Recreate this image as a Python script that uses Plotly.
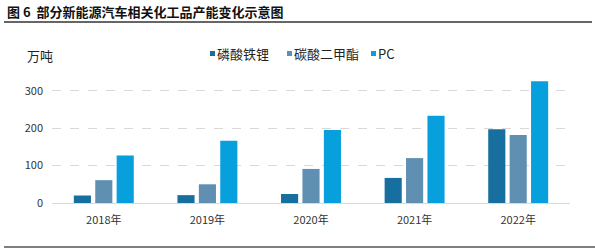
import plotly.graph_objects as go

years = ["2018年", "2019年", "2020年", "2021年", "2022年"]
lfp = [20, 21, 24, 67, 197]
dmc = [61, 50, 91, 120, 182]
pc = [127, 166, 195, 233, 325]
names = ["磷酸铁锂", "碳酸二甲酯", "PC"]
colors = ["#166f9f", "#5f8fb1", "#08a0dc"]

FONT = "Noto Sans CJK SC"
W, H = 595, 250
L, R, T, B = 52, 25, 75, 47
pw, ph = W - L - R, H - T - B

def px(x):
    return (x - L) / pw

def py(y):
    return (H - B - y) / ph

fig = go.Figure()
for n, v, c in zip(names, [lfp, dmc, pc], colors):
    fig.add_trace(go.Bar(x=years, y=v, name=n, marker=dict(color=c, line=dict(width=0))))

shapes = [
    dict(type="line", xref="paper", yref="paper", x0=px(4), x1=px(592), y0=py(22), y1=py(22),
         line=dict(color="#333333", width=1.5)),
    dict(type="line", xref="paper", yref="paper", x0=px(4), x1=px(595), y0=py(247), y1=py(247),
         line=dict(color="#555555", width=1.5)),
]
annotations = [
    dict(text="<b>图 6  部分新能源汽车相关化工品产能变化示意图</b>", xref="paper", yref="paper",
         x=px(5), y=py(11), xanchor="left", yanchor="middle", showarrow=False,
         font=dict(size=13, color="#111111", family=FONT)),
    dict(text="万吨", xref="paper", yref="paper", x=px(25), y=py(55),
         xanchor="left", yanchor="middle", showarrow=False,
         font=dict(size=13, color="#222222", family=FONT)),
]
# custom legend
leg_x = [210, 287, 371]
for n, c, x in zip(names, colors, leg_x):
    shapes.append(dict(type="rect", xref="paper", yref="paper", x0=px(x), x1=px(x + 5),
                       y0=py(56), y1=py(51), fillcolor=c, line=dict(width=0)))
    annotations.append(dict(text=n, xref="paper", yref="paper", x=px(x + 5), y=py(53.5),
                            xanchor="left", yanchor="middle", showarrow=False,
                            font=dict(size=13, color="#222222", family=FONT)))

fig.update_layout(
    width=W, height=H,
    margin=dict(l=L, r=R, t=T, b=B),
    plot_bgcolor="white", paper_bgcolor="white",
    barmode="group", bargap=0.38, bargroupgap=0.2,
    font=dict(family=FONT, size=11, color="#333333"),
    showlegend=False,
    xaxis=dict(showgrid=False, showline=True, linecolor="#d9d9d9", linewidth=1,
               ticks="", ticklabelstandoff=7, tickfont=dict(size=11, color="#333333")),
    yaxis=dict(range=[0, 342], tickvals=[0, 100, 200, 300], showgrid=True,
               gridcolor="#d9d9d9", griddash="dash", gridwidth=1, zeroline=False,
               showline=False, ticks="", ticklabelstandoff=8,
               tickfont=dict(size=11, color="#333333")),
    shapes=shapes,
    annotations=annotations,
)

fig.write_html("out.html")
